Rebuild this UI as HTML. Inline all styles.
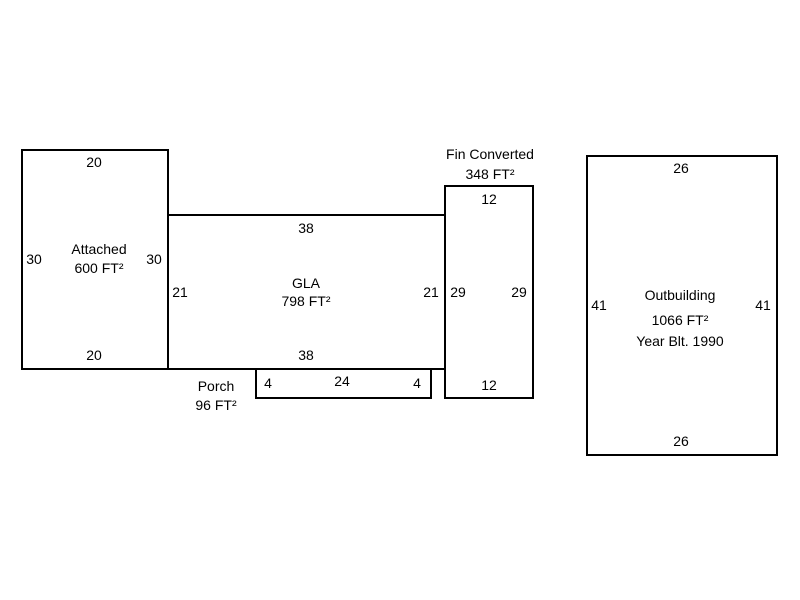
<!DOCTYPE html>
<html><head><meta charset="utf-8"><style>
html,body{margin:0;padding:0;background:#fff;}
svg{display:block;}
text{font-family:"Liberation Sans",Arial,sans-serif;font-size:14px;fill:#000;}
</style></head><body>
<svg width="800" height="600" viewBox="0 0 800 600" xmlns="http://www.w3.org/2000/svg">
<g fill="none" stroke="#000" stroke-width="2">
<rect x="22" y="150" width="146" height="219"/>
<rect x="168" y="215" width="277" height="154"/>
<rect x="445" y="186" width="88" height="212"/>
<rect x="256" y="369" width="175" height="29"/>
<rect x="587" y="156" width="190" height="299"/>
</g>
<g text-anchor="middle">
<text x="94" y="167">20</text>
<text x="94" y="360">20</text>
<text x="34" y="264">30</text>
<text x="154" y="264">30</text>
<text x="99" y="254">Attached</text>
<text x="99" y="273">600 FT²</text>
<text x="306" y="233">38</text>
<text x="306" y="360">38</text>
<text x="180" y="297">21</text>
<text x="431" y="297">21</text>
<text x="306" y="288">GLA</text>
<text x="306" y="306">798 FT²</text>
<text x="490" y="159">Fin Converted</text>
<text x="490" y="179">348 FT²</text>
<text x="489" y="204">12</text>
<text x="489" y="390">12</text>
<text x="458" y="297">29</text>
<text x="519" y="297">29</text>
<text x="216" y="391">Porch</text>
<text x="216" y="410">96 FT²</text>
<text x="268" y="388">4</text>
<text x="342" y="386">24</text>
<text x="417" y="388">4</text>
<text x="681" y="173">26</text>
<text x="681" y="446">26</text>
<text x="599" y="310">41</text>
<text x="763" y="310">41</text>
<text x="680" y="300">Outbuilding</text>
<text x="680" y="325">1066 FT²</text>
<text x="680" y="346">Year Blt. 1990</text>
</g>
</svg>
</body></html>
